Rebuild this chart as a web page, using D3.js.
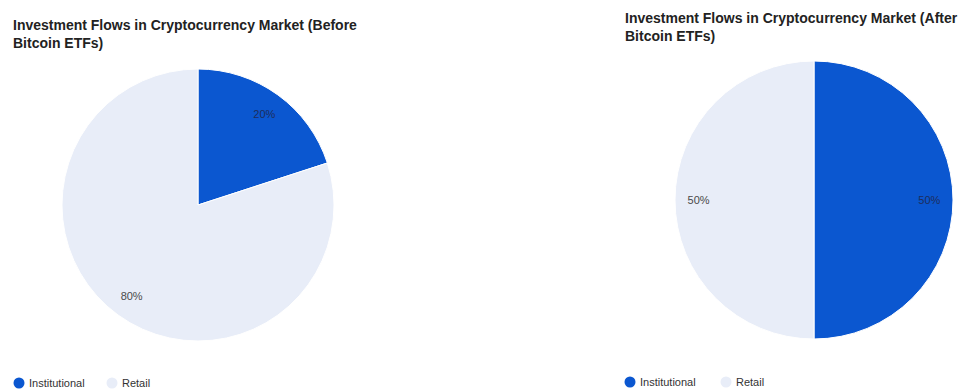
<!DOCTYPE html>
<html>
<head>
<meta charset="utf-8">
<script src="https://cdn.jsdelivr.net/npm/d3@7"></script>
<style>
  html, body { margin: 0; padding: 0; background: #ffffff; }
  svg { display: block; font-family: Arial, "Liberation Sans", sans-serif; }
</style>
</head>
<body>
<svg id="chart" width="969" height="389"></svg>
<script>
// Share of investment flows by investor type
const categories = ["Institutional", "Retail"];
const beforeValues = [20, 80];
const afterValues = [50, 50];
const titlesBefore = ["Investment Flows in Cryptocurrency Market (Before", "Bitcoin ETFs)"];
const titlesAfter = ["Investment Flows in Cryptocurrency Market (After", "Bitcoin ETFs)"];
const colors = ["#0b57d0", "#e8edf8"];

const svg = d3.select("#chart");
const color = d3.scaleOrdinal().domain(categories).range(colors);

function drawPanel(cfg) {
  const g = svg.append("g");

  // Title, two lines
  const title = g.append("text")
    .attr("x", cfg.titleX)
    .attr("y", cfg.titleY)
    .attr("font-size", 14)
    .attr("font-weight", "bold")
    .attr("fill", "#222");
  cfg.title.forEach((line, i) => {
    title.append("tspan")
      .attr("x", cfg.titleX)
      .attr("dy", i === 0 ? 0 : 18)
      .text(line);
  });

  // Pie
  const data = categories.map((c, i) => ({ name: c, value: cfg.values[i] }));
  const pie = d3.pie().sort(null).value(d => d.value);
  const arc = d3.arc().innerRadius(0).outerRadius(cfg.r);
  const labelArc = d3.arc().innerRadius(cfg.r * 0.83).outerRadius(cfg.r * 0.83);
  const arcs = pie(data);

  const pg = g.append("g").attr("transform", `translate(${cfg.cx},${cfg.cy})`);
  pg.selectAll("path")
    .data(arcs)
    .join("path")
    .attr("d", arc)
    .attr("fill", d => color(d.data.name))
    .attr("stroke", "#ffffff")
    .attr("stroke-width", 1);

  pg.selectAll("text")
    .data(arcs)
    .join("text")
    .attr("transform", d => `translate(${labelArc.centroid(d)})`)
    .attr("text-anchor", "middle")
    .attr("dominant-baseline", "central")
    .attr("font-size", 11)
    .attr("fill", d => d.data.name === "Institutional" ? "#1d2d5c" : "#4a4a4a")
    .text(d => d.data.value + "%");

  // Legend
  const lg = g.append("g").attr("transform", `translate(${cfg.legendX},${cfg.legendY})`);
  const offsets = [0, cfg.legendGap];
  categories.forEach((c, i) => {
    lg.append("circle")
      .attr("cx", offsets[i])
      .attr("cy", 0)
      .attr("r", 5.5)
      .attr("fill", color(c));
    lg.append("text")
      .attr("x", offsets[i] + 10)
      .attr("y", 0)
      .attr("dominant-baseline", "central")
      .attr("font-size", 11)
      .attr("fill", "#333")
      .text(c);
  });
}

drawPanel({
  title: titlesBefore, titleX: 13, titleY: 30,
  values: beforeValues, cx: 198, cy: 205, r: 136,
  legendX: 19, legendY: 383, legendGap: 93
});

drawPanel({
  title: titlesAfter, titleX: 625, titleY: 23,
  values: afterValues, cx: 814, cy: 200, r: 139,
  legendX: 630, legendY: 382, legendGap: 96
});
</script>
</body>
</html>
